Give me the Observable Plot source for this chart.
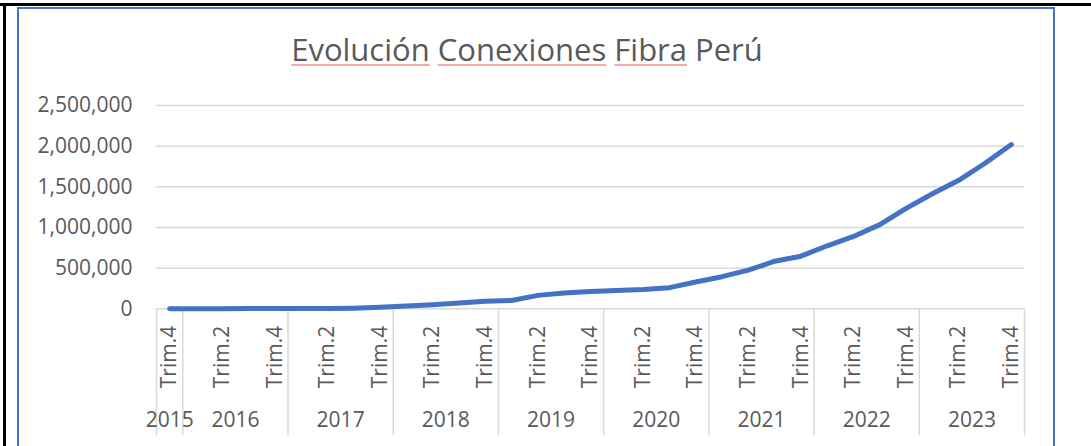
<!DOCTYPE html>
<html>
<head>
<meta charset="utf-8">
<script src="https://cdn.jsdelivr.net/npm/d3@7"></script>
<script src="https://cdn.jsdelivr.net/npm/@observablehq/plot@0.6"></script>
<style>
  html, body { margin: 0; padding: 0; background: #ffffff; }
  #page { position: relative; width: 1091px; height: 446px; overflow: hidden; background: #fff; font-family: "Open Sans", "Noto Sans", sans-serif; }
  .blk-top { position: absolute; left: 0; top: 3px; width: 1091px; height: 3px; background: #000; }
  .blk-left { position: absolute; left: 3px; top: 3px; width: 3px; height: 446px; background: #000; }
  .frame { position: absolute; left: 17px; top: 7px; width: 1034px; height: 460px; border: 2px solid #4472c4; border-bottom: none; }
  #title { position: absolute; left: 0; width: 1054px; top: 34px; text-align: center; font-size: 31px; line-height: 31px; color: #595959; white-space: nowrap; }
  #title .sp { text-decoration: underline solid #f7aaaa; text-decoration-thickness: 1.5px; text-underline-offset: 3px; }
  #chart { position: absolute; left: 0; top: 0; }
</style>
</head>
<body>
<div id="page">
  <div class="blk-top"></div>
  <div class="blk-left"></div>
  <div class="frame"></div>
  <div id="chart"></div>
  <div id="title"><span class="sp">Evolución</span> <span class="sp">Conexiones</span> <span class="sp">Fibra</span> Perú</div>
</div>
<script>
// ---- data ----
const periodYear = [2015,
  2016, 2016, 2016, 2016,
  2017, 2017, 2017, 2017,
  2018, 2018, 2018, 2018,
  2019, 2019, 2019, 2019,
  2020, 2020, 2020, 2020,
  2021, 2021, 2021, 2021,
  2022, 2022, 2022, 2022,
  2023, 2023, 2023, 2023];
const periodQuarter = ["Trim.4",
  "Trim.1", "Trim.2", "Trim.3", "Trim.4",
  "Trim.1", "Trim.2", "Trim.3", "Trim.4",
  "Trim.1", "Trim.2", "Trim.3", "Trim.4",
  "Trim.1", "Trim.2", "Trim.3", "Trim.4",
  "Trim.1", "Trim.2", "Trim.3", "Trim.4",
  "Trim.1", "Trim.2", "Trim.3", "Trim.4",
  "Trim.1", "Trim.2", "Trim.3", "Trim.4",
  "Trim.1", "Trim.2", "Trim.3", "Trim.4"];
const connections = [1000,
  1500, 2000, 2500, 3000,
  3500, 5000, 8000, 18000,
  35000, 50000, 72000, 92000,
  103000, 165000, 195000, 212000,
  225000, 238000, 260000, 330000,
  395000, 475000, 585000, 647000,
  775000, 890000, 1035000, 1235000,
  1415000, 1580000, 1790000, 2020000];
const yTicks = [0, 500000, 1000000, 1500000, 2000000, 2500000];
const yearLabels = ["2015", "2016", "2017", "2018", "2019", "2020", "2021", "2022", "2023"];

// ---- derived tables ----
const rows = connections.map((v, i) => ({i, year: periodYear[i], quarter: periodQuarter[i], value: v}));
const quarterLabels = rows.filter(d => d.i % 2 === 0);
const yearGroups = yearLabels.map(y => {
  const idx = rows.filter(d => String(d.year) === y).map(d => d.i);
  return {label: y, first: d3.min(idx), last: d3.max(idx)};
});
const yearCenters = yearGroups.map(g => ({label: g.label, x: (g.first + g.last) / 2}));
const bounds = [...yearGroups.map(g => g.first - 0.5), yearGroups[yearGroups.length - 1].last + 0.5];

const W = 1091, H = 446;
const mTop = 105, mBottom = 137.7, mLeft = 156, mRight = 67;
const innerH = H - mTop - mBottom;

const chart = Plot.plot({
  width: W,
  height: H,
  marginTop: mTop,
  marginBottom: mBottom,
  marginLeft: mLeft,
  marginRight: mRight,
  style: {fontFamily: "'Open Sans', 'Noto Sans', sans-serif", fontSize: "21px", color: "#595959", background: "transparent", overflow: "visible"},
  x: {type: "linear", domain: [-0.5, rows.length - 0.5], axis: null},
  y: {type: "linear", domain: [0, 2500000], axis: null},
  marks: [
    Plot.gridY(yTicks, {stroke: "#d9d9d9", strokeOpacity: 1, strokeWidth: 1.5}),
    Plot.ruleX(bounds, {stroke: "#d9d9d9", strokeOpacity: 1, strokeWidth: 1.5, insetTop: innerH, insetBottom: -127}),
    Plot.axisY(yTicks, {tickSize: 0, tickPadding: 24, tickFormat: d3.format(","), fontSize: 21, fill: "#595959", label: null}),
    Plot.text(quarterLabels, {x: "i", y: () => 0, text: "quarter", rotate: -90, textAnchor: "end", lineAnchor: "middle", dy: 17, fontSize: 21, fill: "#595959"}),
    Plot.text(yearCenters, {x: "x", y: () => 0, text: "label", textAnchor: "middle", lineAnchor: "middle", dy: 111, fontSize: 21, fill: "#595959"}),
    Plot.line(rows, {x: "i", y: "value", stroke: "#4472c4", strokeWidth: 5, strokeLinecap: "round", strokeLinejoin: "round"})
  ]
});
document.getElementById("chart").appendChild(chart);
</script>
</body>
</html>
